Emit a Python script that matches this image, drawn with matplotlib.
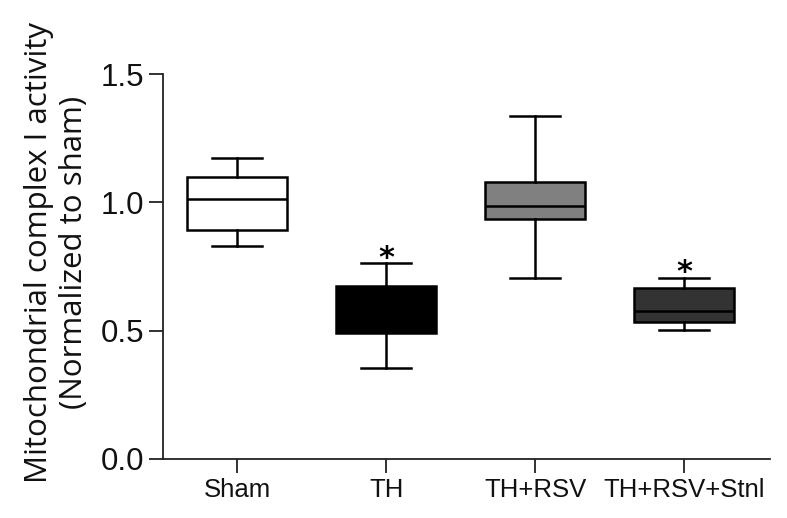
import matplotlib.pyplot as plt

groups = ["Sham", "TH", "TH+RSV", "TH+RSV+Stnl"]
whisker_lo = [0.828, 0.355, 0.706, 0.501]
q1 = [0.894, 0.490, 0.935, 0.532]
median = [1.014, 0.580, 0.984, 0.578]
q3 = [1.098, 0.676, 1.081, 0.665]
whisker_hi = [1.174, 0.762, 1.337, 0.706]
fills = ["white", "black", "#808080", "#333333"]
starred = [False, True, False, True]

stats = []
for i, g in enumerate(groups):
    stats.append({"label": g, "whislo": whisker_lo[i], "q1": q1[i], "med": median[i],
                  "q3": q3[i], "whishi": whisker_hi[i], "fliers": []})

fig = plt.figure(figsize=(7.87, 5.18), dpi=100)
ax = fig.add_axes([0.2071, 0.1139, 0.7713, 0.7432])

lw = 1.8
bp = ax.bxp(stats, positions=[1, 2, 3, 4], widths=0.671, patch_artist=True,
            showfliers=False,
            boxprops=dict(linewidth=lw, edgecolor="black"),
            medianprops=dict(color="black", linewidth=lw),
            whiskerprops=dict(color="black", linewidth=lw),
            capprops=dict(color="black", linewidth=lw))
for patch, c in zip(bp["boxes"], fills):
    patch.set_facecolor(c)

# significance marks above the top whisker
for i, s in enumerate(starred):
    if s:
        ax.text(i + 1, whisker_hi[i] + 0.02, "*", ha="center", va="center",
                fontsize=22, fontfamily="DejaVu Sans", fontweight="bold")

ax.set_xlim(0.501, 4.577)
ax.set_ylim(0, 1.5)
ax.set_yticks([0.0, 0.5, 1.0, 1.5])
ax.set_yticklabels(["0.0", "0.5", "1.0", "1.5"], fontsize=22.5, fontfamily="Liberation Sans")
ax.set_xticks([1, 2, 3, 4])
ax.set_xticklabels(groups, fontsize=18.5, fontfamily="Liberation Sans")
ax.tick_params(axis="both", length=10, width=1.3, color="#222222", labelcolor="#111111")
ax.tick_params(axis="y", pad=3.5)
ax.tick_params(axis="x", pad=4)
for side in ["top", "right"]:
    ax.spines[side].set_visible(False)
for side in ["left", "bottom"]:
    ax.spines[side].set_linewidth(1.3)
    ax.spines[side].set_color("#222222")

fig.text(0.072, 0.512, "Mitochondrial complex I activity\n(Normalized to sham)",
         rotation=90, ha="center", va="center", ma="center",
         fontsize=22.5, fontfamily="Open Sans", color="#111111", linespacing=1.22)

fig.savefig("out.png", dpi=100)
